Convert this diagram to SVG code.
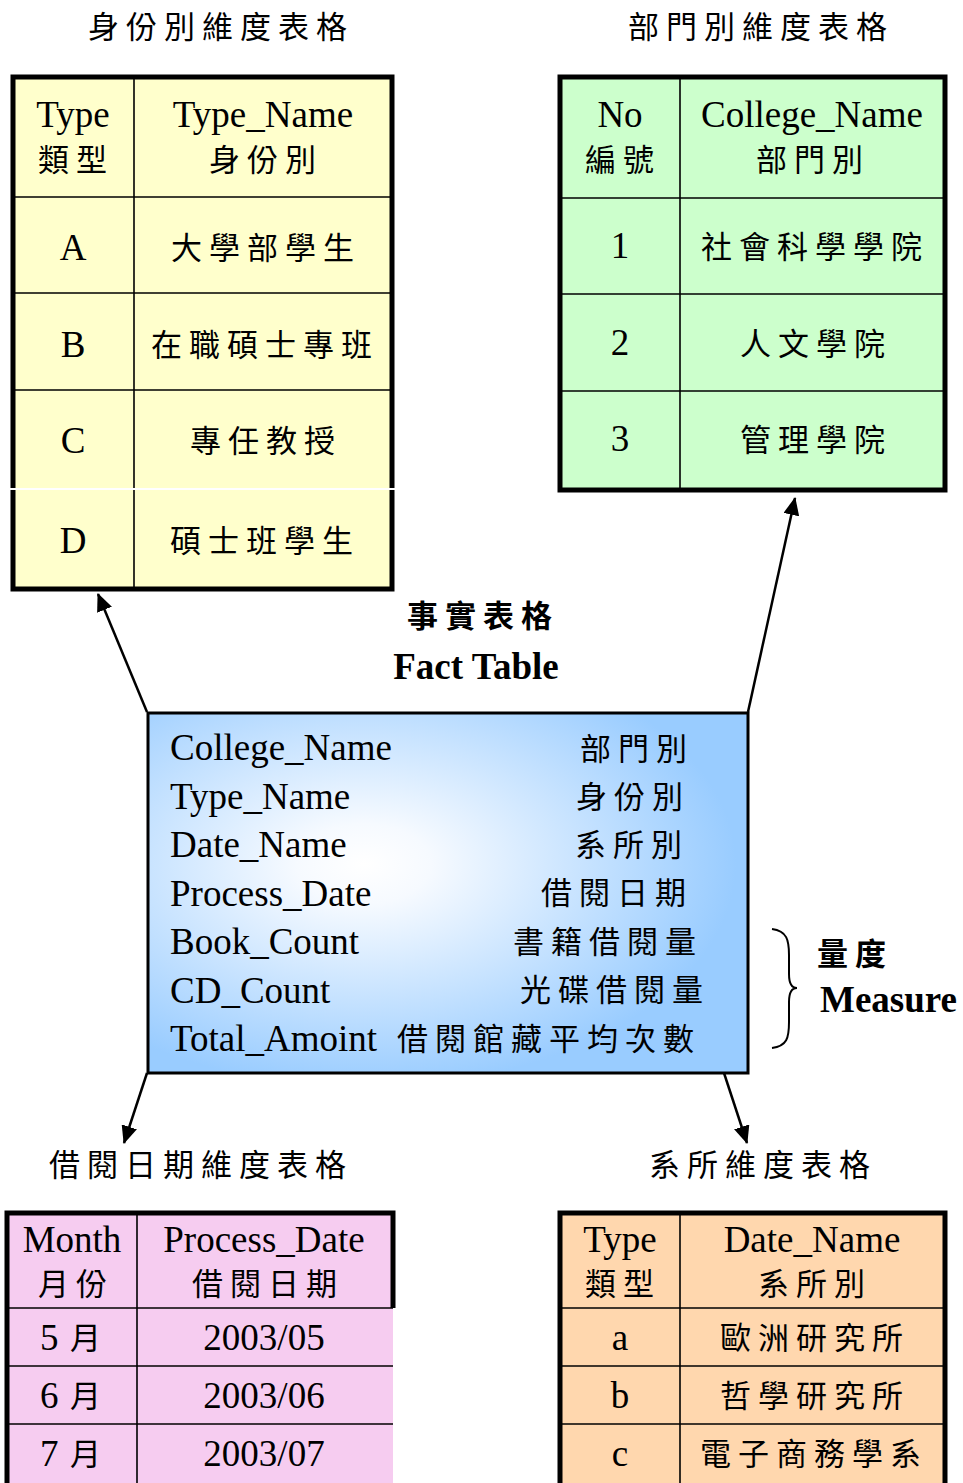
<svg xmlns="http://www.w3.org/2000/svg" width="963" height="1483" viewBox="0 0 963 1483">
<style>
.lt{font-family:"Liberation Serif","Times New Roman",serif;font-size:37px;fill:#000}
.ck{font-family:"Noto Sans CJK TC","Noto Sans CJK SC",sans-serif;font-size:31px;letter-spacing:7px;fill:#000}
.m{text-anchor:middle}
.b{font-weight:bold}
.ob{fill:none;stroke:#000;stroke-width:5}
.il{stroke:#000;stroke-width:1.6;fill:none}
.conn line{stroke:#000;stroke-width:2.5}
</style>
<defs>
<marker id="ah" viewBox="0 0 18 16" refX="17" refY="8" markerWidth="18" markerHeight="16" markerUnits="userSpaceOnUse" orient="auto">
<path d="M0,0 L18,8 L0,16 Z" fill="#000"/>
</marker>
<radialGradient id="fg" cx="0.36" cy="0.42" r="0.62">
<stop offset="0" stop-color="#ffffff"/>
<stop offset="0.18" stop-color="#f6faff"/>
<stop offset="1" stop-color="#99ccff"/>
</radialGradient>
</defs>
<rect width="963" height="1483" fill="#fff"/>

<!-- titles -->
<g id="titles">
<text class="ck m" x="221" y="38">身份別維度表格</text>
<text class="ck m" x="761" y="38">部門別維度表格</text>
<text class="ck m b" x="483" y="627">事實表格</text>
<text class="lt m b" x="476" y="679">Fact Table</text>
<text class="ck m" x="201" y="1176">借閱日期維度表格</text>
<text class="ck m" x="763" y="1176">系所維度表格</text>
</g>

<!-- identity dimension table -->
<g id="type-table">
<rect x="13" y="77" width="379" height="512" fill="#ffffcc"/>
<line class="il" x1="134" y1="77" x2="134" y2="589"/>
<line class="il" x1="13" y1="197" x2="392" y2="197"/>
<line class="il" x1="13" y1="293" x2="392" y2="293"/>
<line class="il" x1="13" y1="390" x2="392" y2="390"/>
<rect class="ob" x="13" y="77" width="379" height="512"/>
<line x1="9" y1="489" x2="397" y2="489" stroke="#fff" stroke-width="2"/>
<text class="lt m" x="73" y="127">Type</text>
<text class="ck m" x="76" y="171">類型</text>
<text class="lt m" x="263" y="127">Type_Name</text>
<text class="ck m" x="266" y="171">身份別</text>
<text class="lt m" x="73" y="260">A</text>
<text class="ck m" x="266" y="259">大學部學生</text>
<text class="lt m" x="73" y="357">B</text>
<text class="ck m" x="265" y="356">在職碩士專班</text>
<text class="lt m" x="73" y="453">C</text>
<text class="ck m" x="266" y="452">專任教授</text>
<text class="lt m" x="73" y="553">D</text>
<text class="ck m" x="265" y="552">碩士班學生</text>
</g>

<!-- college dimension table -->
<g id="college-table">
<rect x="560" y="77" width="385" height="413" fill="#ccffcc"/>
<line class="il" x1="680" y1="77" x2="680" y2="490"/>
<line class="il" x1="560" y1="198" x2="945" y2="198"/>
<line class="il" x1="560" y1="294" x2="945" y2="294"/>
<line class="il" x1="560" y1="391" x2="945" y2="391"/>
<rect class="ob" x="560" y="77" width="385" height="413"/>
<text class="lt m" x="620" y="127">No</text>
<text class="ck m" x="623" y="171">編號</text>
<text class="lt m" x="812" y="127">College_Name</text>
<text class="ck m" x="813" y="171">部門別</text>
<text class="lt m" x="620" y="258">1</text>
<text class="ck m" x="815" y="258">社會科學學院</text>
<text class="lt m" x="620" y="355">2</text>
<text class="ck m" x="816" y="355">人文學院</text>
<text class="lt m" x="620" y="451">3</text>
<text class="ck m" x="816" y="451">管理學院</text>
</g>

<!-- fact table -->
<g id="fact-table">
<rect x="148" y="713" width="600" height="360" fill="url(#fg)" stroke="#000" stroke-width="3"/>
<text class="lt" x="170" y="760">College_Name</text>
<text class="lt" x="170" y="808.5">Type_Name</text>
<text class="lt" x="170" y="857">Date_Name</text>
<text class="lt" x="170" y="905.5">Process_Date</text>
<text class="lt" x="170" y="954">Book_Count</text>
<text class="lt" x="170" y="1002.5">CD_Count</text>
<text class="lt" x="170" y="1051">Total_Amoint</text>
<text class="ck" x="580" y="760">部門別</text>
<text class="ck" x="576" y="808">身份別</text>
<text class="ck" x="575" y="856">系所別</text>
<text class="ck" x="541" y="904">借閱日期</text>
<text class="ck" x="513" y="953">書籍借閱量</text>
<text class="ck" x="520" y="1001">光碟借閱量</text>
<text class="ck" x="397" y="1050">借閱館藏平均次數</text>
</g>

<!-- measure brace -->
<g id="measure">
<path d="M772,929 C787,931 789,940 789,955 L789,974 C789,984 792,988 797,988 C792,988 789,992 789,1002 L789,1022 C789,1038 787,1046 772,1048" fill="none" stroke="#000" stroke-width="2"/>
<text class="ck b" x="817" y="965">量度</text>
<text class="lt b" x="820" y="1012">Measure</text>
</g>

<!-- date dimension table -->
<g id="date-table">
<rect x="7" y="1213" width="386" height="275" fill="#f6ccf0"/>
<line class="il" x1="137" y1="1213" x2="137" y2="1483" stroke-width="2.5"/>
<line class="il" x1="7" y1="1308" x2="393" y2="1308"/>
<line class="il" x1="7" y1="1366" x2="393" y2="1366"/>
<line class="il" x1="7" y1="1424" x2="393" y2="1424"/>
<path d="M7,1490 L7,1213 L393,1213 L393,1308" class="ob"/>
<text class="lt m" x="72" y="1252">Month</text>
<text class="ck m" x="76" y="1295">月份</text>
<text class="lt m" x="264" y="1252">Process_Date</text>
<text class="ck m" x="268" y="1295">借閱日期</text>
<text class="lt" x="40" y="1350">5</text>
<text class="ck" x="70" y="1349">月</text>
<text class="lt m" x="264" y="1350">2003/05</text>
<text class="lt" x="40" y="1408">6</text>
<text class="ck" x="70" y="1407">月</text>
<text class="lt m" x="264" y="1408">2003/06</text>
<text class="lt" x="40" y="1466">7</text>
<text class="ck" x="70" y="1465">月</text>
<text class="lt m" x="264" y="1466">2003/07</text>
</g>

<!-- department dimension table -->
<g id="dept-table">
<rect x="560" y="1213" width="385" height="275" fill="#ffd7ae"/>
<line class="il" x1="680" y1="1213" x2="680" y2="1483" stroke-width="2.5"/>
<line class="il" x1="560" y1="1308" x2="945" y2="1308"/>
<line class="il" x1="560" y1="1366" x2="945" y2="1366"/>
<line class="il" x1="560" y1="1424" x2="945" y2="1424"/>
<path d="M560,1490 L560,1213 L945,1213 L945,1490" class="ob"/>
<text class="lt m" x="620" y="1252">Type</text>
<text class="ck m" x="623" y="1295">類型</text>
<text class="lt m" x="812" y="1252">Date_Name</text>
<text class="ck m" x="815" y="1295">系所別</text>
<text class="lt m" x="620" y="1350">a</text>
<text class="ck m" x="815" y="1349">歐洲研究所</text>
<text class="lt m" x="620" y="1408">b</text>
<text class="ck m" x="815" y="1407">哲學研究所</text>
<text class="lt m" x="620" y="1466">c</text>
<text class="ck m" x="814" y="1465">電子商務學系</text>
</g>

<!-- connectors -->
<g id="connectors" class="conn">
<line x1="147" y1="712" x2="98" y2="594" marker-end="url(#ah)"/>
<line x1="748" y1="712" x2="795" y2="498" marker-end="url(#ah)"/>
<line x1="147" y1="1073" x2="124" y2="1143" marker-end="url(#ah)"/>
<line x1="724" y1="1073" x2="747" y2="1143" marker-end="url(#ah)"/>
</g>
</svg>
